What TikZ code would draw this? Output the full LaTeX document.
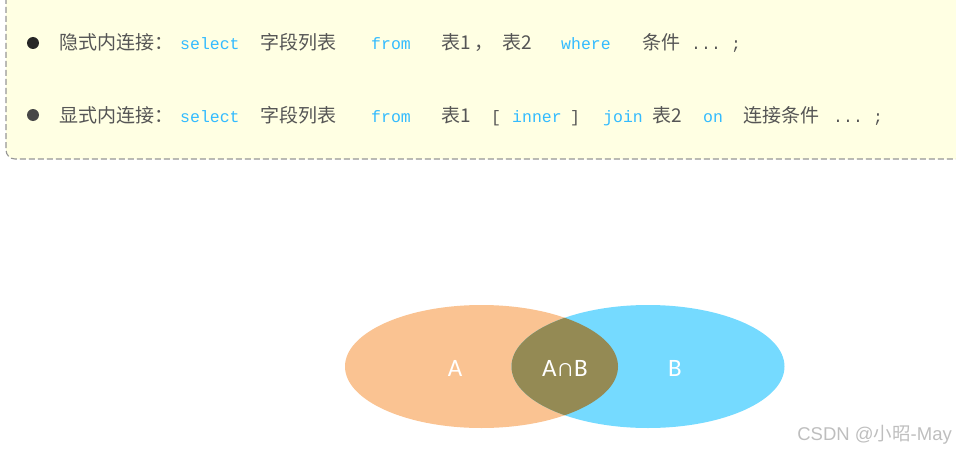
\documentclass[tikz,border=0pt]{standalone}
\usepackage{fontspec}
\newfontfamily\mycjk{Noto Sans CJK SC}
\newfontfamily\mymono{Liberation Mono}
\newfontfamily\mycal{Carlito}
\newfontfamily\mysans{Liberation Sans}
\definecolor{boxfill}{RGB}{255,255,227}
\definecolor{boxline}{RGB}{150,150,150}
\definecolor{kw}{RGB}{51,187,255}
\definecolor{txt}{RGB}{85,85,85}
\definecolor{setA}{RGB}{250,195,146}
\definecolor{setB}{RGB}{117,218,255}
\definecolor{setAB}{RGB}{148,138,84}
\definecolor{wm}{RGB}{190,190,190}
\tikzset{
  tok/.style={inner sep=0pt, anchor=base west},
  cn/.style={tok, text=txt, font=\mycjk\fontsize{19}{19}\selectfont},
  kwd/.style={tok, text=kw, font=\mymono\fontsize{16.5}{16.5}\selectfont},
  pl/.style={tok, text=txt, font=\mymono\fontsize{16.5}{16.5}\selectfont},
  setlbl/.style={text=white, font=\mycal\fontsize{25}{25}\selectfont, inner sep=0pt},
}
\begin{document}
\begin{tikzpicture}[x=1pt,y=-1pt]
\useasboundingbox (0,0) rectangle (956,452);
% box
\draw[boxline, fill=boxfill, line width=1.1pt, dash pattern=on 6pt off 3pt, rounded corners=9pt]
  (6,-20) -- (6,159) -- (975,159) -- (975,-20);
% bullets
\fill[black!85] (33,43) circle (6);
\fill[black!72] (33,115) circle (6);
% row 1
\node[cn]  (r1a) at (59,50) {隐式内连接：};
\node[kwd] (r1b) at (180,50) {select};
\node[cn]  (r1c) at (260,50) {字段列表};
\node[kwd] (r1d) at (371,50) {from};
\node[cn]  (r1e) at (441,50) {表1};
\node[cn]  (r1f) at (474,50) {，};
\node[cn]  (r1g) at (502,50) {表2};
\node[kwd] (r1h) at (561,50) {where};
\node[cn]  (r1i) at (642,50) {条件};
\node[pl]  (r1j) at (691,50) {...};
\node[pl]  (r1k) at (731,50) {;};
% row 2
\node[cn]  (r2a) at (59,122) {显式内连接：};
\node[kwd] (r2b) at (180,122) {select};
\node[cn]  (r2c) at (260,122) {字段列表};
\node[kwd] (r2d) at (371,122) {from};
\node[cn]  (r2e) at (441,122) {表1};
\node[pl]  (r2f) at (491,122) {[};
\node[kwd] (r2g) at (512,122) {inner};
\node[pl]  (r2h) at (570,122) {]};
\node[kwd] (r2i) at (603,122) {join};
\node[cn]  (r2j) at (652,122) {表2};
\node[kwd] (r2k) at (703,122) {on};
\node[cn]  (r2l) at (743,122) {连接条件};
\node[pl]  (r2m) at (833,122) {...};
\node[pl]  (r2n) at (873,122) {;};
% venn
\fill[setA] (481.5,366.5) ellipse [x radius=136.5, y radius=61.5];
\fill[setB] (648,366.5) ellipse [x radius=136.5, y radius=61.5];
\begin{scope}
  \clip (481.5,366.5) ellipse [x radius=136.5, y radius=61.5];
  \fill[setAB] (648,366.5) ellipse [x radius=136.5, y radius=61.5];
\end{scope}
\node[setlbl] (la) at (455,368) {A};
\node[setlbl] (lab) at (565,368) {A∩B};
\node[setlbl] (lb) at (675,368) {B};
% watermark
\node[inner sep=0pt, anchor=east, text=wm, font=\mysans\fontsize{18.5}{18.5}\selectfont] (wmk) at (952,435) {CSDN @{\mycjk 小昭}-May};
\end{tikzpicture}
\end{document}
